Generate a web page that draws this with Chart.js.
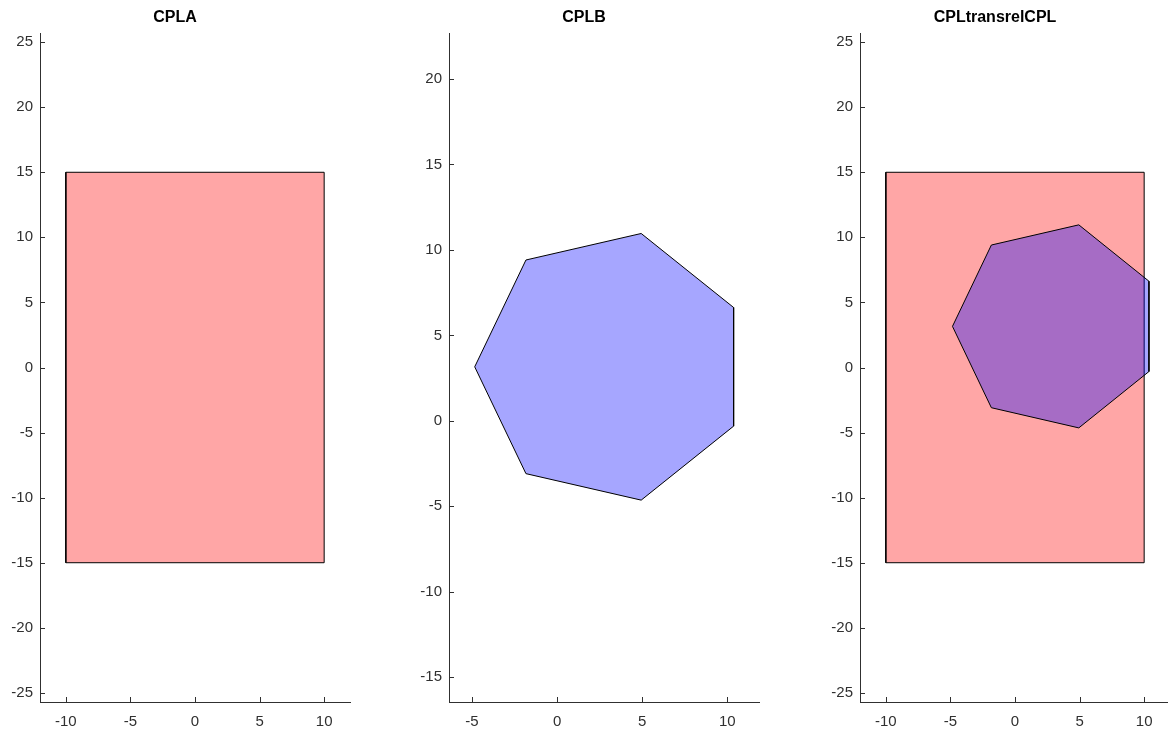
<!DOCTYPE html>
<html>
<head>
<meta charset="utf-8">
<title>CPL polygons</title>
<script src="https://cdn.jsdelivr.net/npm/chart.js@4.4.1/dist/chart.umd.min.js"></script>
<style>
  html, body { margin: 0; padding: 0; background: #fff; }
  #wrap { position: relative; width: 1168px; height: 731px; overflow: hidden; }
  #wrap canvas { position: absolute; top: 0; }
</style>
</head>
<body>
<div id="wrap">
  <canvas id="cplA" width="380" height="731" style="left:0px"></canvas>
  <canvas id="cplB" width="380" height="731" style="left:409px"></canvas>
  <canvas id="cplT" width="380" height="731" style="left:820px"></canvas>
</div>
<script>
// rectangle CPLA (first vertex repeated to close the outline)
const rectX = [-10, 10, 10, -10, -10];
const rectY = [-15, -15, 15, 15, -15];
// heptagon CPLB
const heptX = [4.94, 10.37, 10.37, 4.94, -1.83, -4.84, -1.83, 4.94];
const heptY = [10.96, 6.63, -0.31, -4.64, -3.09, 3.16, 9.41, 10.96];

// tick values
const ticksAX = [-10, -5, 0, 5, 10];
const ticksAY = [-25, -20, -15, -10, -5, 0, 5, 10, 15, 20, 25];
const ticksBX = [-5, 0, 5, 10];
const ticksBY = [-15, -10, -5, 0, 5, 10, 15, 20];

const axisColor = '#303030';
const fontFamily = '"Liberation Sans", Arial, Helvetica, sans-serif';
const TICK_LEN = 5;

// short tick marks pointing into the plot, like octave's default axes
const innerTicks = {
  id: 'innerTicks',
  afterDraw(chart) {
    const ctx = chart.ctx;
    const xs = chart.scales.x, ys = chart.scales.y;
    const a = chart.chartArea;
    ctx.save();
    ctx.strokeStyle = axisColor;
    ctx.lineWidth = 1;
    ctx.beginPath();
    xs.ticks.forEach(t => {
      const px = Math.round(xs.getPixelForValue(t.value)) + 0.5;
      ctx.moveTo(px, a.bottom);
      ctx.lineTo(px, a.bottom - TICK_LEN);
    });
    ys.ticks.forEach(t => {
      const py = Math.round(ys.getPixelForValue(t.value)) + 0.5;
      ctx.moveTo(a.left, py);
      ctx.lineTo(a.left + TICK_LEN, py);
    });
    ctx.stroke();
    ctx.restore();
  }
};

function axis(min, max, ticks, isY) {
  return {
    type: 'linear',
    min: min,
    max: max,
    afterBuildTicks: s => { s.ticks = ticks.map(v => ({ value: v })); },
    afterFit: s => { if (isY) s.width = 40; else s.height = 29; },
    grid: { display: false, drawTicks: false },
    border: { color: axisColor, width: 1 },
    ticks: {
      autoSkip: false,
      color: axisColor,
      font: { family: fontFamily, size: 15 },
      padding: isY ? 7 : 11,
      callback: v => String(v)
    }
  };
}

function poly(xs, ys, fill) {
  return {
    data: xs.map((x, i) => ({ x: x, y: ys[i] })),
    showLine: true,
    fill: 'shape',
    backgroundColor: fill,
    borderColor: '#000',
    borderWidth: 1,
    pointRadius: 0,
    tension: 0
  };
}

const red = 'rgba(255, 0, 0, 0.35)';
const blue = 'rgba(0, 0, 255, 0.35)';

function panel(id, title, datasets, xr, yr, tx, ty) {
  new Chart(document.getElementById(id), {
    type: 'scatter',
    data: { datasets: datasets },
    options: {
      responsive: false,
      animation: false,
      devicePixelRatio: 1,
      layout: { padding: { left: 0, right: 30, top: 0, bottom: 0 } },
      scales: {
        x: axis(xr[0], xr[1], tx, false),
        y: axis(yr[0], yr[1], ty, true)
      },
      plugins: {
        legend: { display: false },
        tooltip: { enabled: false },
        title: {
          display: true,
          text: title,
          color: '#000',
          font: { family: fontFamily, size: 16, weight: 'bold' },
          padding: { top: 8, bottom: 5.8 }
        }
      }
    },
    plugins: [innerTicks]
  });
}

panel('cplA', 'CPLA', [poly(rectX, rectY, red)], [-12, 12], [-25.7, 25.7], ticksAX, ticksAY);
panel('cplB', 'CPLB', [poly(heptX, heptY, blue)], [-6.35, 11.86], [-16.45, 22.69], ticksBX, ticksBY);
// datasets listed first are painted last, so the heptagon goes first to sit on top
panel('cplT', 'CPLtransrelCPL', [poly(heptX, heptY, blue), poly(rectX, rectY, red)], [-12, 12], [-25.7, 25.7], ticksAX, ticksAY);
</script>
</body>
</html>
